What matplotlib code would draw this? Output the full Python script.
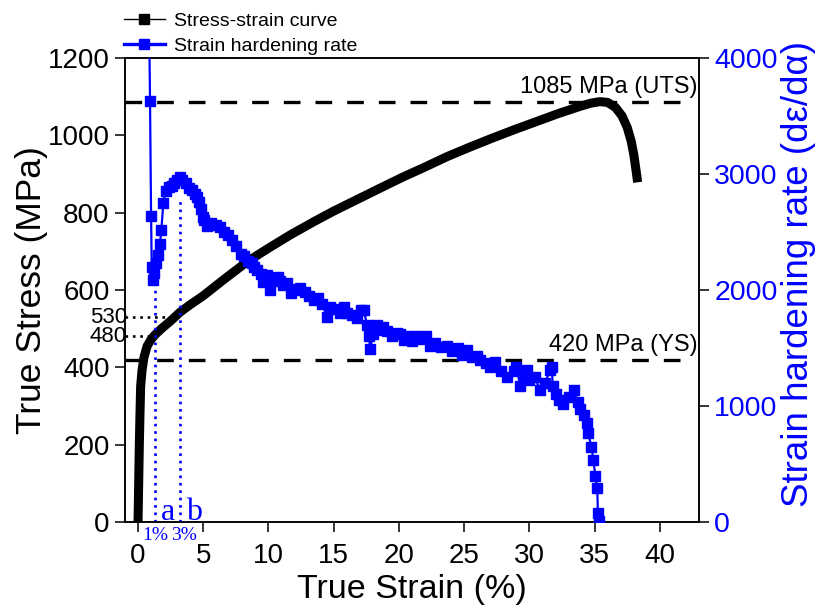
"""
True stress-strain curve with strain hardening rate on a twin axis.
"""
import matplotlib
matplotlib.use("Agg")
import matplotlib.pyplot as plt
from matplotlib.lines import Line2D

plt.rcParams['font.family'] = ['Liberation Sans', 'DejaVu Sans']

# stress-strain curve (strain %, stress MPa)
strain = [0.0, 0.05, 0.1, 0.15, 0.2, 0.3, 0.45, 0.7, 1.0, 1.3, 1.8, 2.5, 3.2,
          4.0, 5.0, 6.5, 8.4, 10.0, 11.7, 13.5, 15.0, 16.8, 18.6, 20.3, 22.0,
          23.7, 25.4, 27.1, 28.8, 30.5, 32.2, 33.9, 34.7, 35.4, 36.0, 36.6,
          37.1, 37.5, 37.8, 38.0, 38.15, 38.25]
stress = [0, 100, 200, 280, 350, 390, 425, 455, 472, 484, 500, 520, 542,
          562, 585, 625, 674, 708, 743, 777, 804, 834, 864, 892, 918,
          945, 969, 992, 1014, 1035, 1056, 1075, 1083, 1087, 1085, 1072,
          1050, 1020, 985, 950, 915, 890]

# strain hardening rate (strain %, rate)
hr_strain = [0.85, 0.92, 1.00, 1.05, 1.15, 1.25, 1.40, 1.55, 1.68, 1.79, 1.94,
             2.12, 2.37, 2.6, 2.75, 3.0, 3.19, 3.4, 3.65, 3.9, 4.16, 4.4, 4.54,
             4.7, 4.8, 4.95, 5.05, 5.3, 5.6, 5.95, 6.3, 6.58, 6.9, 7.2, 7.5,
             7.86, 8.1, 8.4, 8.7, 8.9, 9.1, 9.4, 9.6, 9.9, 10.15, 10.4, 10.7,
             10.9, 11.1, 11.4, 11.7, 12.0, 12.2, 12.45, 12.8, 13.1, 13.5, 13.8,
             14.1, 14.5, 14.7, 15.0, 15.5, 15.8, 16.0, 16.4, 16.8, 17.1, 17.3,
             17.55, 17.7, 17.8, 18.0, 18.3, 18.6, 18.8, 19.1, 19.5, 19.85, 20.1,
             20.4, 20.6, 21.0, 21.3, 21.6, 22.1, 22.4, 22.8, 23.2, 23.7, 24.1,
             24.5, 24.8, 25.2, 25.6, 26.0, 26.2, 26.7, 27.0, 27.4, 27.8, 28.3,
             28.8, 29.0, 29.3, 29.6, 29.8, 30.0, 30.4, 30.8, 31.2, 31.6, 31.7,
             31.8, 32.0, 32.3, 32.6, 33.0, 33.4, 33.7, 33.9, 34.2, 34.4, 34.5,
             34.75, 34.9, 35.05, 35.2, 35.25, 35.3]
hr_rate = [4300, 3630, 2640, 2200, 2090, 2150, 2230, 2300, 2400, 2520, 2750,
           2850, 2890, 2900, 2920, 2950, 2975, 2950, 2920, 2880, 2860, 2830, 2800,
           2760, 2700, 2630, 2600, 2550, 2575, 2560, 2540, 2500, 2470, 2430, 2380,
           2310, 2290, 2250, 2230, 2200, 2170, 2140, 2070, 2130, 2000, 2090, 2110,
           2080, 2040, 2060, 1970, 2010, 2000, 2020, 1980, 1950, 1914, 1930,
           1880, 1770, 1856, 1840, 1800, 1850, 1800, 1780, 1760, 1830, 1830,
           1700, 1600, 1490, 1620, 1700, 1655, 1680, 1650, 1600, 1627, 1620,
           1570, 1600, 1560, 1600, 1580, 1600, 1520, 1540, 1510, 1520, 1470,
           1500, 1440, 1480, 1420, 1430, 1400, 1370, 1340, 1380, 1300, 1250,
           1300, 1340, 1170, 1240, 1310, 1220, 1250, 1140, 1200, 1310, 1340,
           1170, 1100, 1050, 1020, 1080, 1140, 1030, 970, 920, 850, 765,
           650, 535, 400, 290, 75, 5]

UTS = 1085
YS = 420
MARK_STRAIN = [1.3, 3.2]
MARK_STRESS = [480, 530]
MARK_RATE = [2050, 2800]

BLUE = '#0000ff'

fig = plt.figure(figsize=(8.19, 6.12), dpi=100)
ax = fig.add_axes([0.1526, 0.1471, 0.7009, 0.7582])
ax2 = ax.twinx()

ax.plot(strain, stress, color='black', lw=6.5, solid_joinstyle='round', zorder=3)

for y, lbl, yt in [(UTS, "1085 MPa (UTS)", 1109), (YS, "420 MPa (YS)", 443)]:
    ax.plot([-1, 42.1], [y, y], color='black', lw=2.4, dashes=(5, 4.5), zorder=2)
    ax.text(42.9, yt, lbl, ha='right', va='baseline', fontsize=17)

# dotted guides at 1 % and 3 %
for xs, ys, yr in zip(MARK_STRAIN, MARK_STRESS, MARK_RATE):
    ax.plot([-1, xs], [ys, ys], color='black', lw=1.9, dashes=(1, 1.8), zorder=2)
    ax2.plot([xs, xs], [0, yr], color=BLUE, lw=1.9, dashes=(1, 1.8), zorder=2)
    ax.text(-0.85, ys, str(ys), ha='right', va='center', fontsize=16)

serif = ['Liberation Serif', 'DejaVu Serif']
ax.text(2.3, 5, "a", color=BLUE, fontsize=23, family=serif, ha='center', va='baseline')
ax.text(4.3, 5, "b", color=BLUE, fontsize=23, family=serif, ha='center', va='baseline')
ax.text(1.3, -12, "1%", color=BLUE, fontsize=14, family=serif, ha='center', va='top')
ax.text(3.5, -12, "3%", color=BLUE, fontsize=14, family=serif, ha='center', va='top')

ax2.plot(hr_strain, hr_rate, color=BLUE, lw=1.6, marker='s', ms=7.5, mec=BLUE, zorder=4)

ax.set_xlim(-1, 43)
ax.set_ylim(0, 1200)
ax2.set_ylim(0, 4000)
ax.set_xticks(range(0, 41, 5))
ax.set_yticks(range(0, 1201, 200))
ax2.set_yticks(range(0, 4001, 1000))

ax.set_xlabel("True Strain (%)", fontsize=24.5, labelpad=4)
ax.set_ylabel("True Stress (MPa)", fontsize=25.5, labelpad=0)
ax2.set_ylabel("Strain hardening rate (d\u03b5/d\u03b1)", fontsize=26.5, color=BLUE, labelpad=2)
ax2.yaxis.label.set_y(0.535)

ax.tick_params(axis='both', direction='out', length=7, width=1.1, labelsize=20, pad=4)
ax.tick_params(axis='x', pad=8)
ax2.tick_params(axis='y', direction='out', length=7, width=1.1, labelsize=20.5,
                labelcolor=BLUE, pad=4)
for a in (ax, ax2):
    for s in a.spines.values():
        s.set_linewidth(1.1)

handles = [
    Line2D([], [], color='black', lw=1.0, marker='s', ms=6.5),
    Line2D([], [], color=BLUE, lw=2.4, marker='s', ms=6.5),
]
fig.legend(handles, ["Stress-strain curve", "Strain hardening rate"],
           loc='upper left', bbox_to_anchor=(124 / 819, 1 - 12 / 612),
           frameon=False, fontsize=14, handlelength=2.1, handletextpad=0.45,
           labelspacing=0.4, borderpad=0, borderaxespad=0)

fig.savefig("out.png", dpi=100)
